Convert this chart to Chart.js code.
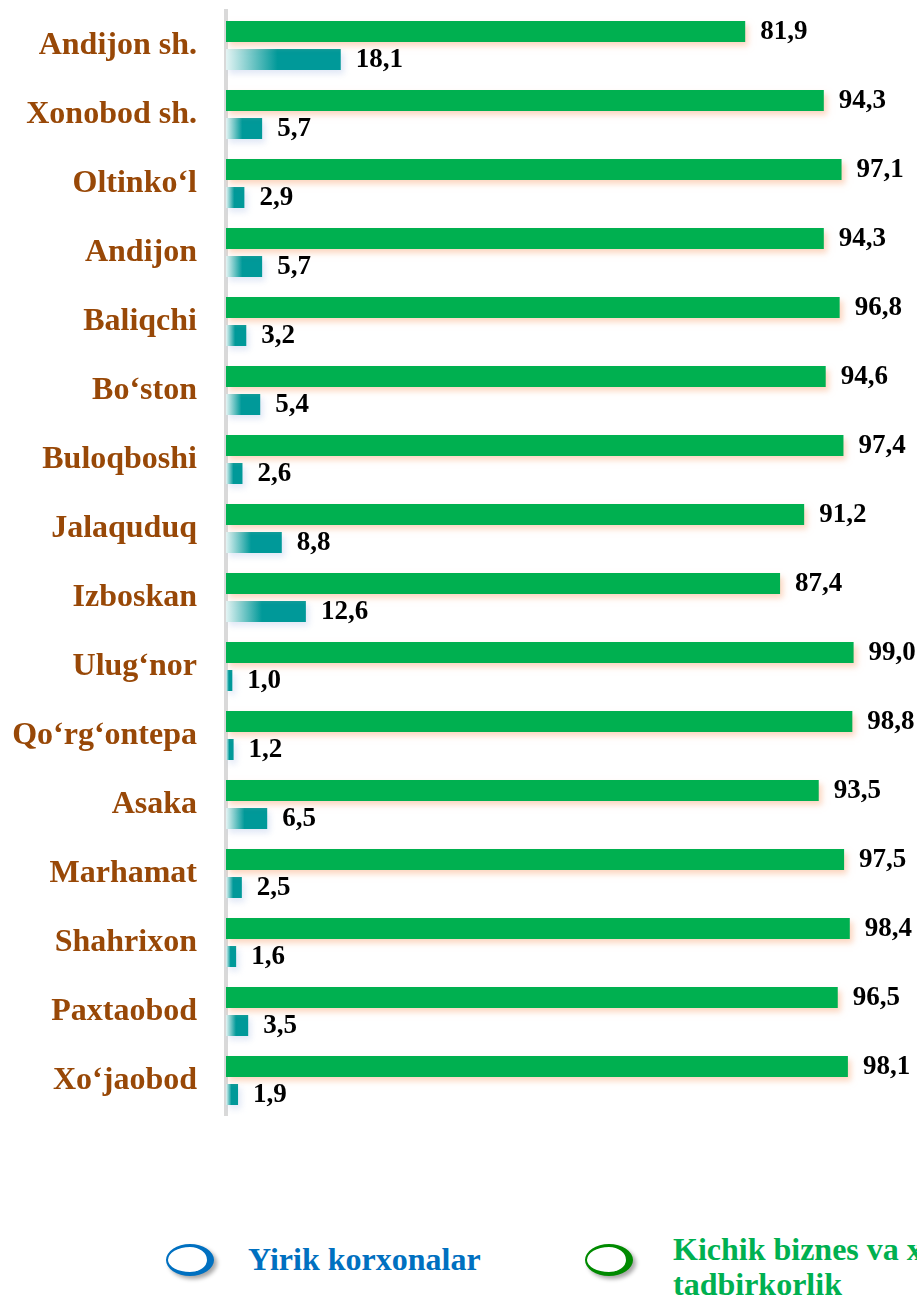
<!DOCTYPE html>
<html>
<head>
<meta charset="utf-8">
<script src="https://cdn.jsdelivr.net/npm/chart.js@4.4.1/dist/chart.umd.min.js"></script>
<style>
  body { margin: 0; width: 917px; height: 1299px; overflow: hidden; background: #fff; position: relative; }
  #wrap { position: absolute; left: 0; top: 0; width: 917px; height: 1125px; }
  .legend-icon { position: absolute; width: 48px; height: 32px; border-radius: 50%; background: #fff; box-sizing: border-box; border-style: solid; border-width: 3px 7px 4px 2px; box-shadow: 3px 3px 4px rgba(0,0,0,0.35); }
  .legend-text { position: absolute; font-family: 'Liberation Serif', serif; font-weight: bold; font-size: 32px; line-height: 35px; white-space: nowrap; }
</style>
</head>
<body>
<div id="wrap"><canvas id="chart" width="917" height="1125"></canvas></div>

<div class="legend-icon" style="left:166px; top:1244px; border-color:#0070c0;"></div>
<div class="legend-text" style="left:248px; top:1242px; color:#0070c0;">Yirik korxonalar</div>
<div class="legend-icon" style="left:585px; top:1244px; border-color:#008a00;"></div>
<div class="legend-text" style="left:673px; top:1232px; color:#00b050;">Kichik biznes va xususiy<br>tadbirkorlik</div>

<script>
// Ma'lumotlar
const tumanlar = ['Andijon sh.', 'Xonobod sh.', 'Oltinko‘l', 'Andijon', 'Baliqchi', 'Bo‘ston', 'Buloqboshi', 'Jalaquduq',
    'Izboskan', 'Ulug‘nor', 'Qo‘rg‘ontepa', 'Asaka', 'Marhamat', 'Shahrixon', 'Paxtaobod', 'Xo‘jaobod'];
const kichikBiznes = [81.9, 94.3, 97.1, 94.3, 96.8, 94.6, 97.4, 91.2, 87.4, 99.0, 98.8, 93.5, 97.5, 98.4, 96.5, 98.1];
const yirikKorxonalar = [18.1, 5.7, 2.9, 5.7, 3.2, 5.4, 2.6, 8.8, 12.6, 1.0, 1.2, 6.5, 2.5, 1.6, 3.5, 1.9];

const serif = "'Liberation Serif', 'Times New Roman', serif";

// teal bar: oq -> moviy gradient, har bir ustun uchun alohida
function tealGradient(context) {
    const chart = context.chart;
    if (!chart.chartArea || context.raw == null) return '#009999';
    const x0 = chart.scales.x.getPixelForValue(0);
    const x1 = chart.scales.x.getPixelForValue(context.raw);
    const g = chart.ctx.createLinearGradient(x0, 0, x0 + (x1 - x0) * 0.45, 0);
    g.addColorStop(0, '#e4f4f4');
    g.addColorStop(1, '#009999');
    return g;
}

// ustun soyalari
const shadowPlugin = {
    id: 'shadows',
    beforeDatasetDraw(chart, args) {
        const ctx = chart.ctx;
        ctx.save();
        if (args.index === 0) {
            ctx.shadowColor = 'rgba(250, 180, 140, 0.55)';
        } else {
            ctx.shadowColor = 'rgba(170, 190, 230, 0.35)';
        }
        ctx.shadowBlur = 6;
        ctx.shadowOffsetX = 3;
        ctx.shadowOffsetY = 4;
    },
    afterDatasetDraw(chart) {
        chart.ctx.restore();
    }
};

// qiymat yozuvlari
const valueLabels = {
    id: 'valueLabels',
    afterDatasetsDraw(chart) {
        const ctx = chart.ctx;
        ctx.save();
        ctx.font = 'bold 27px ' + serif;
        ctx.fillStyle = '#000';
        ctx.textAlign = 'left';
        ctx.textBaseline = 'middle';
        chart.data.datasets.forEach((ds, i) => {
            chart.getDatasetMeta(i).data.forEach((bar, j) => {
                const txt = ds.data[j].toFixed(1).replace('.', ',');
                ctx.fillText(txt, bar.x + 15, bar.y + 1);
            });
        });
        ctx.restore();
    }
};

const ctx = document.getElementById('chart').getContext('2d');
new Chart(ctx, {
    type: 'bar',
    data: {
        labels: tumanlar,
        datasets: [
            {
                label: 'Kichik biznes va xususiy tadbirkorlik',
                data: kichikBiznes,
                backgroundColor: '#00b050',
                categoryPercentage: 0.8116,
                barPercentage: 0.75
            },
            {
                label: 'Yirik korxonalar',
                data: yirikKorxonalar,
                backgroundColor: tealGradient,
                categoryPercentage: 0.8116,
                barPercentage: 0.75
            }
        ]
    },
    options: {
        indexAxis: 'y',
        responsive: false,
        animation: false,
        layout: { padding: { top: 11, bottom: 10, left: 0, right: 0 } },
        plugins: {
            legend: { display: false },
            tooltip: { enabled: false }
        },
        scales: {
            x: {
                display: false,
                min: 0,
                max: 109
            },
            y: {
                afterFit(scale) {
                    scale.width = 226;
                    scale.paddingTop = 0;
                    scale.paddingBottom = 0;
                },
                grid: { display: false, drawTicks: false },
                border: { display: true, color: '#d9d9d9', width: 4 },
                ticks: {
                    padding: 29,
                    color: '#984807',
                    font: { family: serif, size: 32, weight: 'bold' }
                }
            }
        }
    },
    plugins: [shadowPlugin, valueLabels]
});
</script>
</body>
</html>
